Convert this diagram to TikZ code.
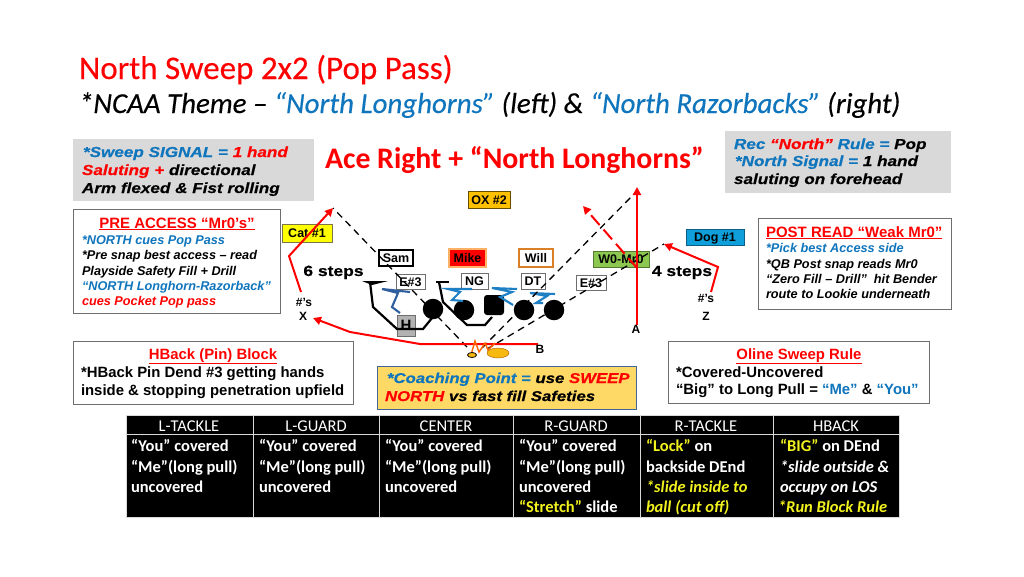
\documentclass[tikz,border=0pt]{standalone}
\usepackage{fontspec}
\setmainfont{Liberation Sans}
\newfontfamily\calibri{Carlito}
\newfontfamily\calibrif[FakeBold=0.3]{Carlito}
\newfontfamily\wide[FakeStretch=1.18,FakeBold=0.4]{Liberation Sans}
\usetikzlibrary{arrows.meta,shapes.geometric}
\definecolor{bl}{HTML}{0F75BD}
\definecolor{rd}{HTML}{FF0000}
\definecolor{yl}{HTML}{FFFF00}
\definecolor{tyl}{HTML}{F2F21E}
\definecolor{gr}{HTML}{D9D9D9}
\definecolor{edge}{HTML}{6E6E6E}
\definecolor{blk}{HTML}{1F7FC4}
\definecolor{dkblk}{HTML}{2F5F9F}
\definecolor{goldp}{HTML}{FFD966}
\definecolor{gold2}{HTML}{F5B90F}
\definecolor{oxc}{HTML}{FFC000}
\definecolor{dogc}{HTML}{0FA0DC}
\definecolor{grn}{HTML}{8CC850}
\newcommand\fs[1]{\fontsize{#1}{#1}\selectfont}
\newcommand\bi{\wide\bfseries\itshape}
\newcommand\R[1]{\textcolor{rd}{#1}}
\newcommand\B[1]{\textcolor{bl}{#1}}
\newcommand\Y[1]{\textcolor{tyl}{#1}}
\tikzset{
  x=1pt,y=-1pt,
  tl/.style={anchor=base west,inner sep=0pt,outer sep=0pt},
  tc/.style={anchor=base,inner sep=0pt,outer sep=0pt},
  panel/.style={draw=edge,line width=1pt,fill=white},
  greyp/.style={fill=gr},
  tag/.style={inner sep=0pt,font=\bfseries\fs{12.5},text height=9pt,text depth=0pt},
  route/.style={draw=rd,line width=2pt,-{Triangle[length=8pt,width=8pt]}},
  sight/.style={draw=black,line width=1.3pt,dash pattern=on 7pt off 5pt},
  oline/.style={draw=black,line width=2.2pt},
  blockb/.style={draw=blk,line width=2.1pt},
  blockd/.style={draw=dkblk,line width=2.1pt},
  cellt/.style={fill=black,draw=gr,line width=1pt},
  head/.style={tc,text=white,font=\calibri\fs{16.5}},
  cell/.style={tl,text=white,font=\calibri\bfseries\fs{16.5}},
  celli/.style={tl,text=tyl,font=\calibri\bfseries\itshape\fs{16.5}},
  smalli/.style={tl,font=\itshape\bfseries\fs{12.7}},
}
\begin{document}
\begin{tikzpicture}
\useasboundingbox (0,0) rectangle (1024,576);
\fill[white] (0,0) rectangle (1024,576);
% titles
\node[tl,text=rd,font=\calibrif\fs{33}] (title) at (79,79) {North Sweep 2x2 (Pop Pass)};
\node[tl,font=\calibrif\itshape\fs{28.9}] (theme) at (79,113) {*NCAA Theme – \B{“North Longhorns”} (left) \& \B{“North Razorbacks”} (right)};
\node[tl,text=rd,font=\calibri\bfseries\fs{29.8}] (ace) at (325,168) {Ace Right + “North Longhorns”};
% grey panels
\fill[greyp] (73,139) rectangle (314,201);
\node[tl,font=\bi\fs{14.5}] (s1) at (83,157) {\B{*Sweep SIGNAL =} \R{1 hand}};
\node[tl,font=\bi\fs{14.5}] (s2) at (82,175) {\R{Saluting +} directional};
\node[tl,font=\bi\fs{14.5}] (s3) at (82,193) {Arm flexed \& Fist rolling};
\fill[greyp] (725,131) rectangle (951,193);
\node[tl,font=\bi\fs{14.5}] (r1) at (734,149) {\B{Rec} \R{“North”} \B{Rule =} Pop};
\node[tl,font=\bi\fs{14.5}] (r2) at (735,166) {\B{*North Signal =} 1 hand};
\node[tl,font=\bi\fs{14.5}] (r3) at (734,184) {saluting on forehead};
% PRE ACCESS
\draw[panel] (73,209) rectangle (280,313);
\node[tc,text=rd,font=\bfseries\fs{15}] (p0) at (177,228) {\underline{PRE ACCESS “Mr0’s”}};
\node[smalli,text=bl] (p1) at (82,244) {*NORTH cues Pop Pass};
\node[smalli] (p2) at (82,259) {*Pre snap best access – read};
\node[smalli] (p3) at (82,275) {Playside Safety Fill + Drill};
\node[smalli,text=bl] (p4) at (82,290) {“NORTH Longhorn-Razorback”};
\node[smalli,text=rd] (p5) at (82,305) {cues Pocket Pop pass};
% POST READ
\draw[panel] (758,218) rectangle (951,309);
\node[tl,text=rd,font=\bfseries\fs{15}] (q0) at (766,237) {\underline{POST READ “Weak Mr0”}};
\node[smalli,text=bl] (q1) at (766,252) {*Pick best Access side};
\node[smalli] (q2) at (766,268) {*QB Post snap reads Mr0};
\node[smalli] (q3) at (766,283) {“Zero Fill – Drill”\ \ hit Bender};
\node[smalli] (q4) at (766,298) {route to Lookie underneath};
% HBack
\draw[panel] (73,341) rectangle (353,404);
\node[tc,text=rd,font=\bfseries\fs{14.9}] (h0) at (213,359) {\underline{HBack (Pin) Block}};
\node[tl,font=\bfseries\fs{14.9}] (h1) at (81,377) {*HBack Pin Dend \#3 getting hands};
\node[tl,font=\bfseries\fs{14.9}] (h2) at (81,395) {inside \& stopping penetration upfield};
% Oline
\draw[panel] (668,341) rectangle (929,403);
\node[tc,text=rd,font=\bfseries\fs{14.9}] (o0) at (799,359) {\underline{Oline Sweep Rule}};
\node[tl,font=\bfseries\fs{14.9}] (o1) at (676,377) {*Covered-Uncovered};
\node[tl,font=\bfseries\fs{14.9}] (o2) at (676,394) {“Big” to Long Pull = \B{“Me”} \& \B{“You”}};
% Coaching
\draw[draw=dkblk!80!gray,line width=1pt,fill=goldp] (377,366) rectangle (636,409);
\node[tl,font=\bi\fs{14.2}] (c1) at (387,383) {\B{*Coaching Point =} use \R{SWEEP}};
\node[tl,font=\bi\fs{14.2}] (c2) at (385,401) {\R{NORTH} vs fast fill Safeties};
% tags
\node[tag,draw=black!60!yellow,line width=.8pt,fill=yl,minimum width=50pt,minimum height=18pt] (cat) at (307,233) {Cat \#1};
\node[tag,draw=black!60!oxc,line width=.8pt,fill=oxc,minimum width=42pt,minimum height=17pt] (ox) at (489,199.5) {OX \#2};
\node[tag,draw=black!40!dogc,line width=.8pt,fill=dogc,minimum width=58pt,minimum height=16pt] (dog) at (715,237) {Dog \#1};
\node[tag,draw=black,line width=1.6pt,fill=white,minimum width=34pt,minimum height=16pt] (sam) at (396,258) {Sam};
\node[tag,draw=orange!60!white,line width=1.4pt,fill=rd,minimum width=37pt,minimum height=18pt] (mike) at (467.5,258) {Mike};
\node[tag,draw=orange!70!gray,line width=1.4pt,fill=white,minimum width=34pt,minimum height=18pt] (will) at (536,258) {Will};
\node[tag,draw=grn!60!black,line width=.8pt,fill=grn,minimum width=56pt,minimum height=16pt] (wmr) at (621,259) {W0-Mr0};
\node[tag,draw=edge,line width=.8pt,fill=white,minimum width=29pt,minimum height=15pt] (e1) at (410.5,281.5) {E\#3};
\node[tag,draw=edge,line width=.8pt,fill=white,minimum width=27pt,minimum height=16pt] (ng) at (474.5,281) {NG};
\node[tag,draw=edge,line width=.8pt,fill=white,minimum width=24pt,minimum height=16pt] (dt) at (533,281) {DT};
\node[tag,draw=edge,line width=.8pt,fill=white,minimum width=30pt,minimum height=15pt] (e2) at (591,282.5) {E\#3};
% coordinates
\coordinate (qa) at (467,347);
\coordinate (qb) at (482,348);
\coordinate (qc) at (487,349);
\coordinate (pa) at (333,208);
\coordinate (pb) at (636,192);
\coordinate (pb2) at (637,187);
\coordinate (pc) at (664,244);
\coordinate (xtip) at (313,318);
\coordinate (dtip) at (583,206);
% offense
\node[circle,fill=black,minimum size=20.5pt,inner sep=0pt] (lt) at (433,309) {};
\node[circle,fill=black,minimum size=20.5pt,inner sep=0pt] (lg) at (464,310) {};
\node[rounded corners=3pt,fill=black,minimum size=20pt,inner sep=0pt] (cn) at (494,305) {};
\node[circle,fill=black,minimum size=20.5pt,inner sep=0pt] (rg) at (524,310) {};
\node[circle,fill=black,minimum size=20.5pt,inner sep=0pt] (rt) at (554,310) {};
\node[draw=edge,line width=.6pt,fill=black!30,inner sep=0pt,font=\bfseries\fs{15},minimum width=18pt,minimum height=21pt] (hb) at (406,325.5) {H};
% blocking
\draw[oline] (370,282) -- (373,307) -- (397,329) -- (423,329) -- (432,318);
\fill[black] (362,281) -- (388,281) -- (372,285) -- cycle;
\draw[oline] (436,282) -- (449,282);
\draw[oline] (439,282) -- (443,302) -- (467,325) -- (485,325) -- (492,317);
\draw[blockd] (400,313) -- (392,307) -- (398,293) -- (382,289) -- (410,292);
\draw[blockb] (463,301) -- (452,300) -- (460,292) -- (448,289) -- (472,289);
\draw[blockb] (513,305) -- (500,297) -- (512,292) -- (492,288) -- (517,289);
\draw[blockb] (543,303) -- (536,303) -- (547,296) -- (530,293) -- (555,294);
% sight lines
\draw[sight] (qa) -- (pa);
\draw[sight] (qb) -- (pb);
\draw[sight] (qc) -- (pc);
% routes
\coordinate (xs) at (301,292); \coordinate (xb) at (289,256);
\draw[route] (xs) -- (xb) -- (pa);
\coordinate (bs) at (538,344); \coordinate (b1) at (420,344); \coordinate (b2) at (350,332);
\draw[route] (bs) -- (b1) -- (b2) -- (xtip);
\coordinate (as) at (637,325);
\draw[route] (as) -- (pb2);
\coordinate (ds) at (637,268);
\draw[route,dash pattern=on 13pt off 6pt] (ds) -- (dtip);
\coordinate (zs) at (711,292); \coordinate (zb) at (718,267);
\draw[route] (zs) -- (zb) -- (pc);
% QB and ball
\draw[draw=orange!80!red,line width=1.4pt] (471,355) -- (475,341) -- (479,352) -- (485,343) -- (488,350) -- (495,343);
\node[ellipse,fill=gold2,draw=orange!70!black,line width=.4pt,minimum width=22pt,minimum height=10pt,inner sep=0pt] (ball) at (498,353) {};
\node[ellipse,fill=gold2,draw=black,line width=.8pt,minimum width=9pt,minimum height=5pt,inner sep=0pt] (qbk) at (472,355) {};
% labels
\node[tc,font=\wide\bfseries\fs{14.8}] (six) at (333.5,276) {6 steps};
\node[tc,font=\wide\bfseries\fs{14.8}] (four) at (682,276) {4 steps};
\node[tc,font=\bfseries\fs{12}] (nx) at (304,306) {\#’s};
\node[tc,font=\bfseries\fs{12}] (labx) at (303,320) {X};
\node[tc,font=\bfseries\fs{12}] (nz) at (706,302) {\#’s};
\node[tc,font=\bfseries\fs{12}] (labz) at (706,320) {Z};
\node[tc,font=\bfseries\fs{12}] (laba) at (636,333) {A};
\node[tc,font=\bfseries\fs{12}] (labb) at (540,353) {B};
% table
\foreach \a/\b in {126/253,253/379,379/513,513/640,640/773,773/899}{
  \draw[cellt] (\a,415) rectangle (\b,434);
  \draw[cellt] (\a,434) rectangle (\b,517);
}
\node[head] (th1) at (189,431) {L-TACKLE};
\node[head] (th2) at (316,431) {L-GUARD};
\node[head] (th3) at (446,431) {CENTER};
\node[head] (th4) at (576,431) {R-GUARD};
\node[head] (th5) at (706,431) {R-TACKLE};
\node[head] (th6) at (836,431) {HBACK};
\node[cell] (a1) at (131,451) {“You” covered};
\node[cell] (a2) at (131,472) {“Me”(long pull)};
\node[cell] (a3) at (131,492) {uncovered};
\node[cell] (b1t) at (259,451) {“You” covered};
\node[cell] (b2t) at (259,472) {“Me”(long pull)};
\node[cell] (b3t) at (259,492) {uncovered};
\node[cell] (c1t) at (385,451) {“You” covered};
\node[cell] (c2t) at (385,472) {“Me”(long pull)};
\node[cell] (c3t) at (385,492) {uncovered};
\node[cell] (d1t) at (519,451) {“You” covered};
\node[cell] (d2t) at (519,472) {“Me”(long pull)};
\node[cell] (d3t) at (519,492) {uncovered};
\node[cell] (d4t) at (519,512) {\Y{“Stretch”} slide};
\node[cell] (e1t) at (646,451) {\Y{“Lock”} on};
\node[cell] (e2t) at (646,472) {backside DEnd};
\node[celli] (e3t) at (646,492) {*slide inside to};
\node[celli] (e4t) at (646,512) {ball (cut off)};
\node[cell] (f1t) at (780,451) {\Y{“BIG”} on DEnd};
\node[cell,font=\calibri\bfseries\itshape\fs{16.5}] (f2t) at (780,472) {*slide outside \&};
\node[cell,font=\calibri\bfseries\itshape\fs{16.5}] (f3t) at (780,492) {occupy on LOS};
\node[celli] (f4t) at (778,512) {*Run Block Rule};
\end{tikzpicture}
\end{document}
